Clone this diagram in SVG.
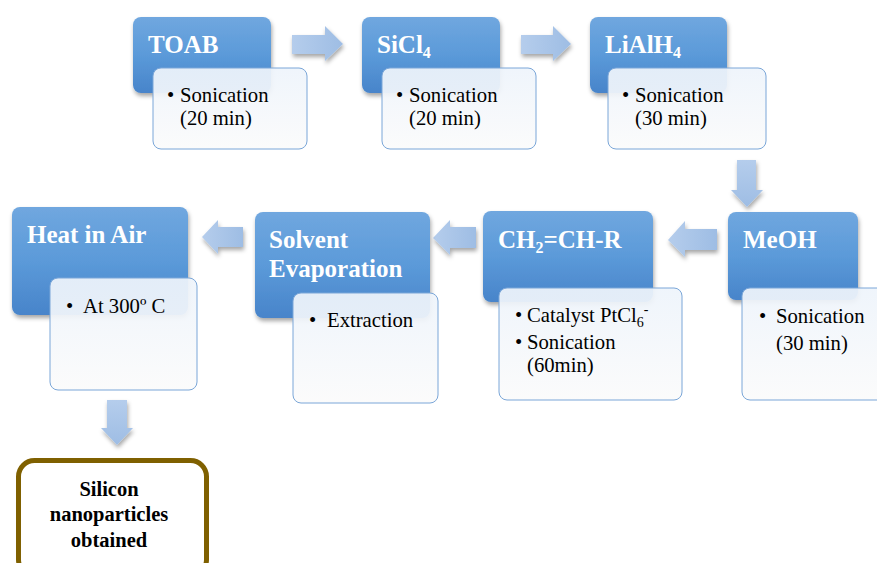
<svg xmlns="http://www.w3.org/2000/svg" width="877" height="563" viewBox="0 0 877 563">
<defs>
<linearGradient id="gb" x1="0" y1="0" x2="0" y2="1">
<stop offset="0" stop-color="#70a7df"/>
<stop offset="0.5" stop-color="#5b9ad9"/>
<stop offset="1" stop-color="#4884ca"/>
</linearGradient>
<linearGradient id="gw" x1="0" y1="0" x2="0" y2="1">
<stop offset="0" stop-color="#eef4fb"/>
<stop offset="1" stop-color="#fbfbfb"/>
</linearGradient>
<linearGradient id="ga" x1="0" y1="0" x2="1" y2="0">
<stop offset="0" stop-color="#b5cdec"/>
<stop offset="1" stop-color="#9ebde4"/>
</linearGradient>
<linearGradient id="gad" x1="0" y1="0" x2="0" y2="1">
<stop offset="0" stop-color="#b5cdec"/>
<stop offset="1" stop-color="#9ebde4"/>
</linearGradient>
<filter id="sh" x="-10%" y="-10%" width="125%" height="130%">
<feDropShadow dx="1" dy="3" stdDeviation="2" flood-color="#000" flood-opacity="0.35"/>
</filter>
</defs>
<style>
.hb{fill:url(#gb);filter:url(#sh)}
.wb{fill:url(#gw);fill-opacity:0.93;stroke:#7aa6d8;stroke-width:1}
.ar{fill:url(#ga);filter:url(#sh)}
.ad{fill:url(#gad);filter:url(#sh)}
text{font-family:'Liberation Serif','Times New Roman','DejaVu Serif',serif}
.ht{font-weight:bold;font-size:25px;fill:#fff}
.st{font-size:20.7px;fill:#000}
.ft{font-weight:bold;font-size:20.5px;fill:#000;text-anchor:middle}
</style>
<g id="connectors">
<path class="ar" d="M292,35 H325 V26 L343,44 L325,61 V54 H292 Z"/>
<path class="ar" d="M521,35 H553 V26 L571,44 L553,61 V54 H521 Z"/>
<path class="ad" d="M737,160 H756 V190 H763 L747,207 L731,190 H737 Z"/>
<path class="ar" d="M717,229 H685 V221 L668,240 L685,257 V250 H717 Z"/>
<path class="ar" d="M476,227 H450 V220 L433,238 L450,255 V248 H476 Z"/>
<path class="ar" d="M243,227 H218 V220 L202,237 L218,254 V247 H243 Z"/>
<path class="ad" d="M107,400 H127 V428 H133 L117,445 L101,428 H107 Z"/>
</g>
<g id="n-toab">
<rect class="hb" x="133" y="17" width="138" height="76" rx="8"/>
<text class="ht" x="148" y="53">TOAB</text>
<rect class="wb" x="153" y="68" width="154" height="81" rx="8"/>
<text class="st" x="167" y="102">•<tspan x="180">Sonication</tspan></text>
<text class="st" x="180" y="125">(20 min)</text>
</g>
<g id="n-sicl4">
<rect class="hb" x="362" y="17" width="138" height="76" rx="8"/>
<text class="ht" x="377" y="53">SiCl<tspan font-size="16" dy="5">4</tspan></text>
<rect class="wb" x="382" y="68" width="154" height="81" rx="8"/>
<text class="st" x="396" y="102">•<tspan x="409">Sonication</tspan></text>
<text class="st" x="409" y="125">(20 min)</text>
</g>
<g id="n-lialh4">
<rect class="hb" x="590" y="17" width="137" height="76" rx="8"/>
<text class="ht" x="605" y="53">LiAlH<tspan font-size="16" dy="5">4</tspan></text>
<rect class="wb" x="608" y="68" width="158" height="81" rx="8"/>
<text class="st" x="622" y="102">•<tspan x="635">Sonication</tspan></text>
<text class="st" x="635" y="125">(30 min)</text>
</g>
<g id="n-meoh">
<rect class="hb" x="728" y="212" width="130" height="88" rx="8"/>
<text class="ht" x="743" y="248">MeOH</text>
<rect class="wb" x="742" y="288" width="145" height="112" rx="8"/>
<text class="st" x="759" y="323">•<tspan x="776">Sonication</tspan></text>
<text class="st" x="776" y="350">(30 min)</text>
</g>
<g id="n-ch2">
<rect class="hb" x="483" y="211" width="170" height="91" rx="8"/>
<text class="ht" x="498" y="248">CH<tspan font-size="16" dy="5">2</tspan><tspan dy="-5">=CH-R</tspan></text>
<rect class="wb" x="499" y="288" width="183" height="112" rx="8"/>
<text class="st" x="515" y="322">•<tspan x="527">Catalyst PtCl</tspan><tspan font-size="14" dy="5">6</tspan><tspan font-size="14" dy="-13">-</tspan></text>
<text class="st" x="515" y="349">•<tspan x="527">Sonication</tspan></text>
<text class="st" x="527" y="372">(60min)</text>
</g>
<g id="n-solvent">
<rect class="hb" x="255" y="212" width="175" height="106" rx="8"/>
<text class="ht" x="269" y="248">Solvent</text>
<text class="ht" x="269" y="277">Evaporation</text>
<rect class="wb" x="293" y="293" width="145" height="110" rx="8"/>
<text class="st" x="309" y="327">•<tspan x="327">Extraction</tspan></text>
</g>
<g id="n-heat">
<rect class="hb" x="12" y="207" width="176" height="108" rx="8"/>
<text class="ht" x="27" y="243">Heat in Air</text>
<rect class="wb" x="50" y="278" width="147" height="112" rx="8"/>
<text class="st" x="66" y="313">•<tspan x="83">At 300º C</tspan></text>
</g>
<g id="n-final">
<rect x="18.5" y="460.5" width="188" height="115" rx="16" fill="#fff" stroke="#7f6000" stroke-width="5"/>
<text class="ft" x="109" y="496">Silicon</text>
<text class="ft" x="109" y="521">nanoparticles</text>
<text class="ft" x="109" y="547">obtained</text>
</g>
</svg>
